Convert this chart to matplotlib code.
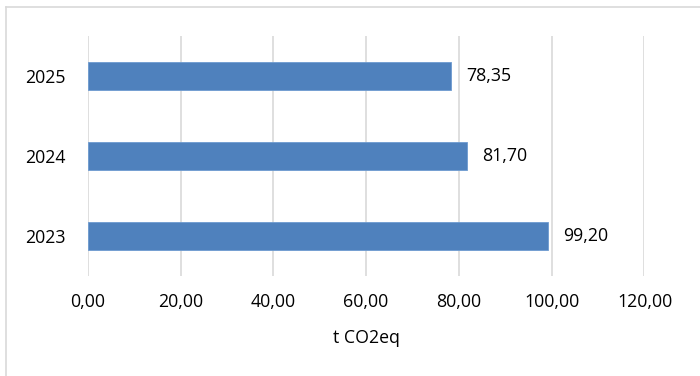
import matplotlib
matplotlib.use('Agg')
from matplotlib import pyplot as plt
from matplotlib.lines import Line2D

# 数据
years = ['2023', '2024', '2025']
values = [99.20, 81.70, 78.35]
xticks = [0, 20, 40, 60, 80, 100, 120]

plt.rcParams['font.family'] = ['Open Sans', 'DejaVu Sans']
fs = 12.8

fig = plt.figure(figsize=(7, 3.76), dpi=100)
ax = fig.add_axes([0.1253, 0.266, 0.7954, 0.638])

# 外框 (只有左边和上边在图内)
x0, y0 = 5.5 / 700, 1 - 6.5 / 376
fig.add_artist(Line2D([x0, x0], [0, y0], transform=fig.transFigure,
                      color='#D9D9D9', linewidth=1.2))
fig.add_artist(Line2D([x0, 1], [y0, y0], transform=fig.transFigure,
                      color='#D9D9D9', linewidth=1.2))

bars = ax.barh(range(len(years)), values, height=0.35, color='#4F81BD',
               edgecolor='#6D9BD0', linewidth=0.6, zorder=3)

for i, v in enumerate(values):
    ax.text(v + 3.3, i, '{:.2f}'.format(v).replace('.', ','),
            va='center', ha='left', fontsize=fs, color='#000000')

ax.set_xlim(0, 120)
ax.set_ylim(-0.5, 2.5)
ax.set_xticks(xticks)
ax.set_xticklabels(['{:.2f}'.format(x).replace('.', ',') for x in xticks],
                   fontsize=fs)
ax.set_yticks(range(len(years)))
ax.set_yticklabels(years, fontsize=fs)
ax.tick_params(length=0, pad=12, axis='x')
ax.tick_params(length=0, pad=16, axis='y')

ax.grid(axis='x', color='#D9D9D9', linewidth=1.2, zorder=0)
for s in ax.spines.values():
    s.set_visible(False)

ax.set_xlabel('t CO2eq', fontsize=fs, labelpad=13)

plt.savefig('out.png', dpi=100)
